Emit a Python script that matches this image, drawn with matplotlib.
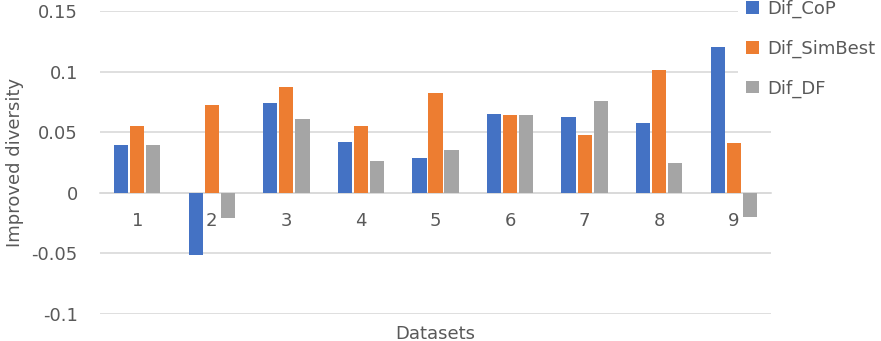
import numpy as np
import matplotlib
matplotlib.use("Agg")
from matplotlib import pyplot as plt

datasets = ['1', '2', '3', '4', '5', '6', '7', '8', '9']
dif_cop = [0.0395, -0.0515, 0.074, 0.042, 0.029, 0.065, 0.0625, 0.058, 0.120]
dif_simbest = [0.055, 0.0725, 0.087, 0.055, 0.0825, 0.064, 0.048, 0.1015, 0.041]
dif_df = [0.0395, -0.021, 0.061, 0.0265, 0.035, 0.064, 0.0755, 0.025, -0.020]
series_names = ['Dif_CoP', 'Dif_SimBest', 'Dif_DF']
colors = ['#4472C4', '#ED7D31', '#A5A5A5']
yticks = [-0.1, -0.05, 0, 0.05, 0.1, 0.15]

plt.rcParams['font.family'] = ['DejaVu Sans']
txt = '#595959'
fs = 13

fig = plt.figure(figsize=(8.81, 3.41), dpi=100)
ax = fig.add_axes([100/881, 27/341, 671/881, 303/341])

x = np.arange(len(datasets))
width = 0.19
step = 0.215
for i, (vals, name) in enumerate(zip([dif_cop, dif_simbest, dif_df], series_names)):
    ax.bar(x + (i - 1)*step, vals, width, color=colors[i], label=name, zorder=3)

ax.set_xlim(-0.5, len(datasets) - 0.5)
ax.set_ylim(-0.1, 0.15)
ax.set_yticks(yticks)
ax.set_yticklabels(['%g' % t for t in yticks])
ax.yaxis.grid(True, color='#d9d9d9', linewidth=1.2, zorder=0)
ax.set_axisbelow(True)

for s in ['left', 'right', 'top']:
    ax.spines[s].set_visible(False)
ax.spines['bottom'].set_position(('data', 0))
ax.spines['bottom'].set_color('#d9d9d9')
ax.spines['bottom'].set_linewidth(1.2)

ax.set_xticks(x)
ax.set_xticklabels(datasets)
ax.tick_params(axis='x', length=0, pad=14, labelsize=fs, colors=txt)
ax.tick_params(axis='y', length=0, pad=16, labelsize=fs, colors=txt)

ax.set_ylabel('Improved diversity', fontsize=fs, color=txt)
ax.yaxis.set_label_coords(-0.113, 0.5)
ax.set_xlabel('Datasets', fontsize=fs, color=txt)
ax.xaxis.set_label_coords(0.5, -0.035)

leg = fig.legend(loc='upper left', bbox_to_anchor=(738/881, 1.025), frameon=True,
                 fontsize=fs, handlelength=0.7, handleheight=0.7,
                 handletextpad=0.45, labelspacing=1.2, borderpad=0.45,
                 borderaxespad=0)
leg.get_frame().set_facecolor('white')
leg.get_frame().set_edgecolor('none')
leg.get_frame().set_alpha(1)
leg.get_frame().set_boxstyle('square', pad=0)
for t in leg.get_texts():
    t.set_color(txt)

fig.savefig('out.png', dpi=100)
